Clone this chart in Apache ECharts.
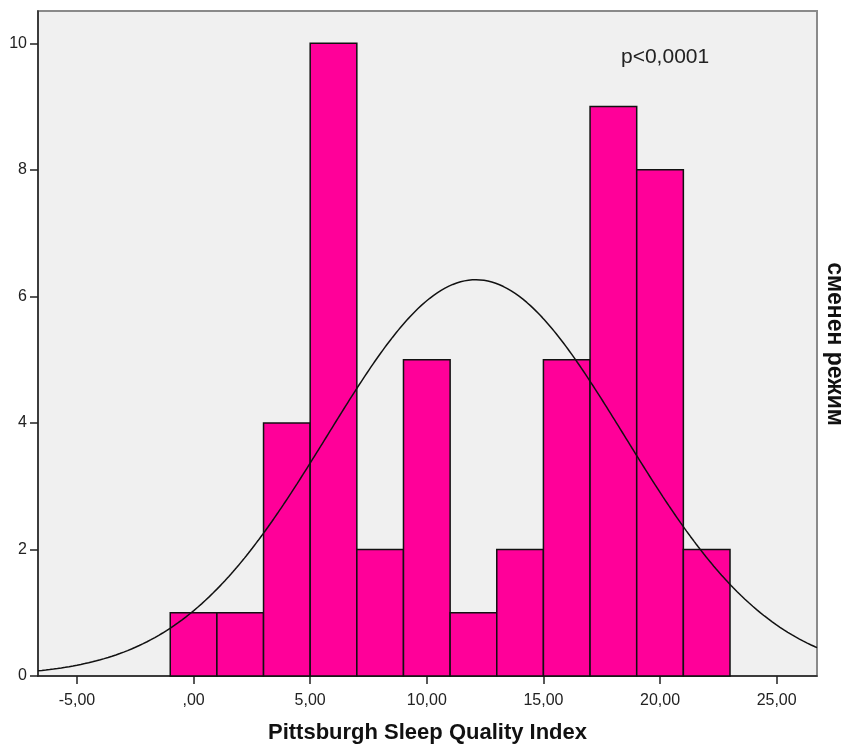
<!DOCTYPE html>
<html>
<head>
<meta charset="utf-8">
<script src="https://cdn.jsdelivr.net/npm/echarts@6/dist/echarts.min.js"></script>
<style>html,body{margin:0;padding:0;background:#fff}#c{width:846px;height:745px}</style>
</head>
<body>
<div id="c"></div>
<script>
// Histogram data
const binStarts = [-1, 1, 3, 5, 7, 9, 11, 13, 15, 17, 19, 21];
const counts    = [1, 1, 4, 10, 2, 5, 1, 2, 5, 9, 8, 2];
const binWidth = 2;
// Normal curve parameters (estimated from the fitted curve in the picture)
const curveMean = 12.1;
const curveSd = 6.37;
const nTotal = 50;
// Tick values
const xTicks = [-5, 0, 5, 10, 15, 20, 25];
const yTicks = [0, 2, 4, 6, 8, 10];
const xMin = -6.67, xMax = 26.73, yMax = 10.51;

const barData = binStarts.map((s, i) => [s, s + binWidth, counts[i]]);
const curveData = [];
for (let k = 0; k <= 400; k++) {
  const x = xMin + (xMax - xMin) * k / 400;
  const z = (x - curveMean) / curveSd;
  const y = nTotal * binWidth / (curveSd * Math.sqrt(2 * Math.PI)) * Math.exp(-0.5 * z * z);
  curveData.push([x, y]);
}

const fmtX = v => v === 0 ? ',00' : v.toFixed(2).replace('.', ',');
const font = 'Liberation Sans, Arial, sans-serif';

const chart = echarts.init(document.getElementById('c'));
chart.setOption({
  animation: false,
  backgroundColor: '#ffffff',
  grid: { left: 38, right: 29, top: 11, bottom: 69, outerBoundsMode: 'none', containLabel: false,
          show: true, backgroundColor: '#f0f0f0', borderColor: '#8a8a8a', borderWidth: 2 },
  xAxis: {
    type: 'value', min: xMin, max: xMax,
    axisLine: { show: true, onZero: false, lineStyle: { color: '#222', width: 1.5 } },
    axisTick: { show: true, customValues: xTicks, length: 8, lineStyle: { color: '#222', width: 1.5 } },
    axisLabel: { customValues: xTicks, formatter: fmtX, fontSize: 16, color: '#222', fontFamily: font, margin: 17 },
    splitLine: { show: false },
    name: 'Pittsburgh Sleep Quality Index', nameLocation: 'middle', nameGap: 46,
    nameTextStyle: { fontSize: 22, fontWeight: 'bold', color: '#111', fontFamily: font }
  },
  yAxis: {
    type: 'value', min: 0, max: yMax,
    axisLine: { show: true, onZero: false, lineStyle: { color: '#222', width: 1.5 } },
    axisTick: { show: true, customValues: yTicks, length: 8, lineStyle: { color: '#222', width: 1.5 } },
    axisLabel: { customValues: yTicks, fontSize: 16, color: '#222', fontFamily: font, margin: 11 },
    splitLine: { show: false }
  },
  graphic: [
    { type: 'text', left: 621, top: 47, style: { text: 'p<0,0001', fontSize: 21, fill: '#222', fontFamily: font } },
    { type: 'text', x: 834, y: 344, rotation: -Math.PI / 2,
      style: { text: 'сменен режим', fontSize: 23, fontWeight: 'bold', fill: '#111', fontFamily: font, align: 'center', verticalAlign: 'middle' } }
  ],
  series: [
    {
      type: 'custom', data: barData, encode: { x: [0, 1], y: 2 }, z: 2,
      renderItem: function (params, api) {
        const p0 = api.coord([api.value(0), api.value(2)]);
        const p1 = api.coord([api.value(1), 0]);
        return { type: 'rect', shape: { x: p0[0], y: p0[1], width: p1[0] - p0[0], height: p1[1] - p0[1] },
                 style: { fill: '#ff0099', stroke: '#111', lineWidth: 1.5 } };
      }
    },
    {
      type: 'line', data: curveData, showSymbol: false, smooth: false, z: 3, clip: true,
      lineStyle: { color: '#111', width: 1.5 }
    }
  ]
});
</script>
</body>
</html>
